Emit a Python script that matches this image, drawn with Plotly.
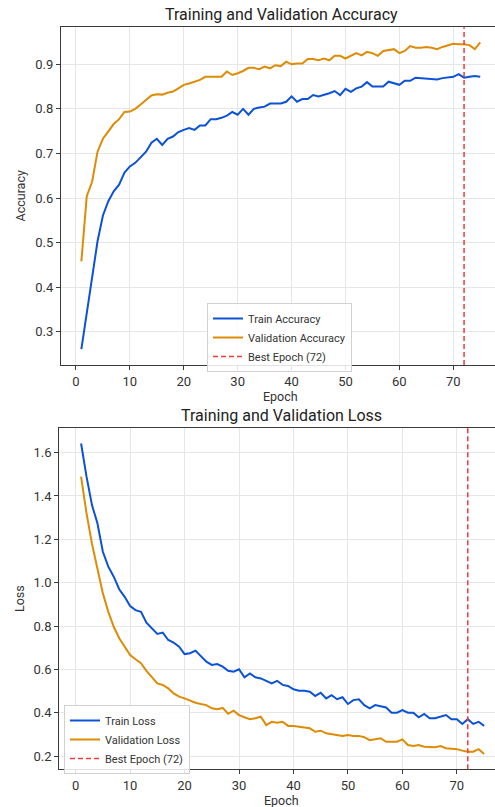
import plotly.graph_objects as go

epochs = list(range(1, 76))
best_epoch = 72

train_acc = [0.261, 0.340, 0.422, 0.503, 0.561, 0.593, 0.615, 0.630, 0.657, 0.671,
             0.679, 0.691, 0.704, 0.724, 0.733, 0.719, 0.733, 0.738, 0.748, 0.753,
             0.757, 0.753, 0.763, 0.763, 0.777, 0.777, 0.780, 0.785, 0.793, 0.787,
             0.800, 0.787, 0.800, 0.803, 0.805, 0.812, 0.812, 0.812, 0.816, 0.828,
             0.816, 0.822, 0.822, 0.831, 0.828, 0.831, 0.835, 0.840, 0.831, 0.845,
             0.838, 0.846, 0.850, 0.860, 0.850, 0.850, 0.850, 0.861, 0.857, 0.854,
             0.863, 0.863, 0.870, 0.869, 0.867, 0.867, 0.866, 0.869, 0.870, 0.872,
             0.878, 0.870, 0.872, 0.874, 0.872]

val_acc = [0.458, 0.604, 0.637, 0.704, 0.733, 0.751, 0.766, 0.777, 0.793, 0.794,
           0.800, 0.810, 0.820, 0.830, 0.833, 0.832, 0.836, 0.839, 0.846, 0.854,
           0.857, 0.861, 0.865, 0.872, 0.872, 0.873, 0.872, 0.884, 0.876, 0.880,
           0.885, 0.892, 0.892, 0.889, 0.895, 0.891, 0.898, 0.896, 0.906, 0.900,
           0.902, 0.902, 0.912, 0.912, 0.909, 0.913, 0.909, 0.919, 0.919, 0.913,
           0.919, 0.925, 0.920, 0.928, 0.925, 0.919, 0.930, 0.932, 0.934, 0.925,
           0.930, 0.941, 0.937, 0.937, 0.939, 0.937, 0.934, 0.939, 0.943, 0.946,
           0.945, 0.945, 0.943, 0.934, 0.949]

train_loss = [1.642, 1.489, 1.358, 1.274, 1.143, 1.074, 1.028, 0.970, 0.935, 0.893,
              0.874, 0.866, 0.816, 0.790, 0.764, 0.770, 0.736, 0.724, 0.705, 0.671,
              0.675, 0.687, 0.659, 0.636, 0.621, 0.625, 0.613, 0.594, 0.590, 0.601,
              0.564, 0.582, 0.564, 0.559, 0.548, 0.536, 0.548, 0.529, 0.524, 0.509,
              0.502, 0.502, 0.498, 0.478, 0.493, 0.467, 0.482, 0.463, 0.472, 0.441,
              0.459, 0.463, 0.436, 0.421, 0.436, 0.430, 0.425, 0.401, 0.401, 0.413,
              0.401, 0.401, 0.380, 0.395, 0.375, 0.375, 0.383, 0.390, 0.371, 0.371,
              0.349, 0.371, 0.349, 0.359, 0.340]

val_loss = [1.489, 1.320, 1.180, 1.059, 0.951, 0.866, 0.797, 0.744, 0.705, 0.667,
            0.647, 0.629, 0.594, 0.567, 0.536, 0.529, 0.513, 0.490, 0.475, 0.467,
            0.456, 0.447, 0.441, 0.436, 0.421, 0.417, 0.423, 0.396, 0.410, 0.390,
            0.380, 0.371, 0.375, 0.383, 0.344, 0.359, 0.355, 0.359, 0.340, 0.340,
            0.336, 0.333, 0.329, 0.313, 0.318, 0.306, 0.303, 0.298, 0.294, 0.298,
            0.294, 0.294, 0.288, 0.274, 0.278, 0.283, 0.267, 0.267, 0.267, 0.278,
            0.252, 0.247, 0.252, 0.244, 0.242, 0.242, 0.247, 0.237, 0.235, 0.233,
            0.226, 0.221, 0.221, 0.233, 0.211]

acc_ticks = [0.3, 0.4, 0.5, 0.6, 0.7, 0.8, 0.9]
loss_ticks = [0.2, 0.4, 0.6, 0.8, 1.0, 1.2, 1.4, 1.6]
epoch_ticks = [0, 10, 20, 30, 40, 50, 60, 70]

BLUE = "#0b52d6"
ORANGE = "#de8b06"
RED = "#f03a3a"
DASH = "5px,3px"
FONT = "Roboto"
W, H = 495, 807

fig = go.Figure()

# top chart
fig.add_trace(go.Scatter(x=epochs, y=train_acc, mode="lines", name="Train Accuracy",
                         line=dict(color=BLUE, width=2), xaxis="x", yaxis="y", legend="legend"))
fig.add_trace(go.Scatter(x=epochs, y=val_acc, mode="lines", name="Validation Accuracy",
                         line=dict(color=ORANGE, width=2), xaxis="x", yaxis="y", legend="legend"))
fig.add_trace(go.Scatter(x=[None], y=[None], mode="lines", name=f"Best Epoch ({best_epoch})",
                         line=dict(color=RED, width=1.5, dash=DASH), xaxis="x", yaxis="y", legend="legend"))

# bottom chart
fig.add_trace(go.Scatter(x=epochs, y=train_loss, mode="lines", name="Train Loss",
                         line=dict(color=BLUE, width=2), xaxis="x2", yaxis="y2", legend="legend2"))
fig.add_trace(go.Scatter(x=epochs, y=val_loss, mode="lines", name="Validation Loss",
                         line=dict(color=ORANGE, width=2), xaxis="x2", yaxis="y2", legend="legend2"))
fig.add_trace(go.Scatter(x=[None], y=[None], mode="lines", name=f"Best Epoch ({best_epoch})",
                         line=dict(color=RED, width=1.5, dash=DASH), xaxis="x2", yaxis="y2", legend="legend2"))

fig.add_shape(type="line", xref="x", yref="y domain", x0=best_epoch, x1=best_epoch, y0=0, y1=1,
              line=dict(color=RED, width=1.5, dash=DASH))
fig.add_shape(type="line", xref="x2", yref="y2 domain", x0=best_epoch, x1=best_epoch, y0=0, y1=1,
              line=dict(color=RED, width=1.5, dash=DASH))

axis_common = dict(showgrid=True, gridcolor="#e6e6e6", gridwidth=1, zeroline=False,
                   showline=True, linecolor="#3a3a3a", linewidth=1.2,
                   ticks="outside", ticklen=4, tickwidth=1, tickcolor="#3a3a3a",
                   tickfont=dict(family=FONT, size=13, color="#333333"), automargin=False)

legend_common = dict(bgcolor="rgba(255,255,255,0.85)", bordercolor="#d0d0d0", borderwidth=1,
                     font=dict(family=FONT, size=11, color="#333333"),
                     xanchor="left", yanchor="top", tracegroupgap=0, itemwidth=30)

fig.update_layout(
    width=W, height=H,
    margin=dict(l=0, r=0, t=0, b=0),
    paper_bgcolor="white", plot_bgcolor="white",
    font=dict(family=FONT, color="#222222"),
    xaxis=dict(domain=[61 / W, 1], range=[-2.78, 77.74], tickvals=epoch_ticks, mirror=True,
               anchor="y", **axis_common),
    yaxis=dict(domain=[1 - 365 / H, 1 - 27.3 / H], range=[0.2255, 0.983], tickvals=acc_ticks,
               tickformat=".1f", anchor="x", **axis_common),
    xaxis2=dict(domain=[59.3 / W, 1], range=[-3.0, 77.0], tickvals=epoch_ticks, mirror=True,
                anchor="y2", **axis_common),
    yaxis2=dict(domain=[1 - 769.3 / H, 1 - 428.3 / H], range=[0.14, 1.712], tickvals=loss_ticks,
                tickformat=".1f", anchor="x2", **axis_common),
    legend=dict(x=207 / W, y=1 - 303 / H, **legend_common),
    legend2=dict(x=64 / W, y=1 - 705 / H, **legend_common),
    annotations=[
        dict(text="Training and Validation Accuracy", x=281 / W, y=1 - 15 / H, xref="paper", yref="paper",
             showarrow=False, xanchor="center", yanchor="middle", font=dict(size=16, color="#222222")),
        dict(text="Training and Validation Loss", x=281.7 / W, y=1 - 415.7 / H, xref="paper", yref="paper",
             showarrow=False, xanchor="center", yanchor="middle", font=dict(size=16, color="#222222")),
        dict(text="Epoch", x=280 / W, y=1 - 396 / H, xref="paper", yref="paper",
             showarrow=False, xanchor="center", yanchor="middle", font=dict(size=12.5, color="#333333")),
        dict(text="Epoch", x=281 / W, y=1 - 800 / H, xref="paper", yref="paper",
             showarrow=False, xanchor="center", yanchor="middle", font=dict(size=12.5, color="#333333")),
        dict(text="Accuracy", x=20 / W, y=1 - 196.5 / H, xref="paper", yref="paper", textangle=-90,
             showarrow=False, xanchor="center", yanchor="middle", font=dict(size=12.5, color="#333333")),
        dict(text="Loss", x=19 / W, y=1 - 599 / H, xref="paper", yref="paper", textangle=-90,
             showarrow=False, xanchor="center", yanchor="middle", font=dict(size=12.5, color="#333333")),
    ],
)

fig.write_html("out.html", config={"displayModeBar": False},
               post_script="document.body.style.margin='0';document.body.style.overflow='hidden';")
